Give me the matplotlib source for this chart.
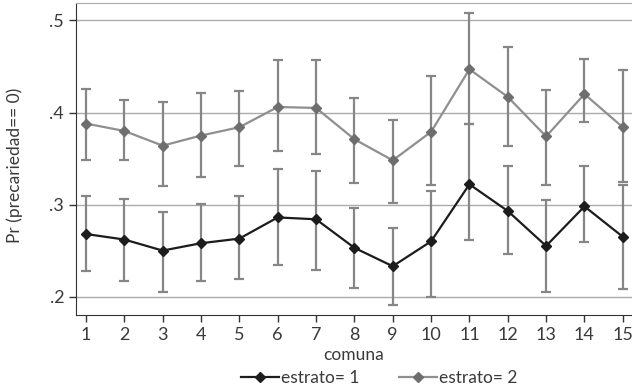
import matplotlib
matplotlib.use("Agg")
import matplotlib.pyplot as plt
import numpy as np

plt.rcParams['font.family'] = ['Lato', 'DejaVu Sans']

comuna = [1, 2, 3, 4, 5, 6, 7, 8, 9, 10, 11, 12, 13, 14, 15]
yticks = [0.2, 0.3, 0.4, 0.5]
ytick_labels = ['.2', '.3', '.4', '.5']

# estrato 1 (black)
e1_pr = [0.268, 0.262, 0.250, 0.258, 0.263, 0.286, 0.284, 0.253, 0.233, 0.260,
         0.322, 0.293, 0.255, 0.298, 0.265]
e1_lo = [0.228, 0.217, 0.205, 0.217, 0.219, 0.234, 0.229, 0.209, 0.191, 0.200,
         0.261, 0.246, 0.205, 0.259, 0.208]
e1_hi = [0.309, 0.306, 0.292, 0.301, 0.309, 0.339, 0.337, 0.296, 0.275, 0.315,
         0.387, 0.342, 0.305, 0.342, 0.321]

# estrato 2 (gray)
e2_pr = [0.388, 0.380, 0.364, 0.375, 0.384, 0.406, 0.405, 0.371, 0.348, 0.379,
         0.447, 0.417, 0.374, 0.420, 0.384]
e2_lo = [0.348, 0.348, 0.320, 0.330, 0.342, 0.358, 0.355, 0.323, 0.302, 0.321,
         0.388, 0.364, 0.321, 0.390, 0.325]
e2_hi = [0.426, 0.414, 0.411, 0.421, 0.423, 0.457, 0.457, 0.416, 0.392, 0.440,
         0.508, 0.471, 0.424, 0.458, 0.446]

bar_col = '#868686'
txt_col = '#3a3a3a'

fig = plt.figure(figsize=(6.32, 3.91), dpi=100)
ax = fig.add_axes([76/632, 1 - 315/391, 1 - 76/632, (315 - 3)/391])

for g in yticks:
    ax.axhline(g, color='#ababab', lw=1.0, zorder=0)

x = np.array(comuna)
for pr, lo, hi in [(e2_pr, e2_lo, e2_hi), (e1_pr, e1_lo, e1_hi)]:
    pr = np.array(pr)
    err = [pr - np.array(lo), np.array(hi) - pr]
    ax.errorbar(x, pr, yerr=err, fmt='none', ecolor=bar_col, elinewidth=1.6,
                capsize=3.5, capthick=1.6, zorder=2)

ax.plot(x, e2_pr, color='#8f8f8f', lw=1.6, marker='D', ms=5.5,
        mfc='#6e6e6e', mec='#6e6e6e', label='estrato= 2', zorder=3)
ax.plot(x, e1_pr, color='#1c1c1c', lw=1.6, marker='D', ms=5.5,
        mfc='#1c1c1c', mec='#1c1c1c', label='estrato= 1', zorder=4)

ax.set_xlim(0.74, 15.24)
ax.set_ylim(0.180, 0.519)
ax.set_xticks(comuna)
ax.set_xticklabels([str(c) for c in comuna])
ax.set_yticks(yticks)
ax.set_yticklabels(ytick_labels)

ax.spines['right'].set_visible(False)
ax.spines['top'].set_color('#ababab')
ax.spines['left'].set_color('#333333')
ax.spines['bottom'].set_color('#333333')
ax.tick_params(axis='both', colors='#333333', labelcolor=txt_col,
               labelsize=13, length=5, width=1)

ax.set_xlabel('comuna', fontsize=12.5, color=txt_col, labelpad=3)
ax.set_ylabel('Pr (precariedad== 0)', fontsize=12.5, color=txt_col)
ax.yaxis.set_label_coords(-0.096, 0.478)

h, l = ax.get_legend_handles_labels()
fig.legend(h[::-1], l[::-1], loc='center', bbox_to_anchor=(0.6, 0.033), ncol=2,
           frameon=False, fontsize=12.5, handlelength=2.2, handletextpad=0.1,
           columnspacing=2.3, labelcolor=txt_col)

fig.savefig('out.png', dpi=100)
